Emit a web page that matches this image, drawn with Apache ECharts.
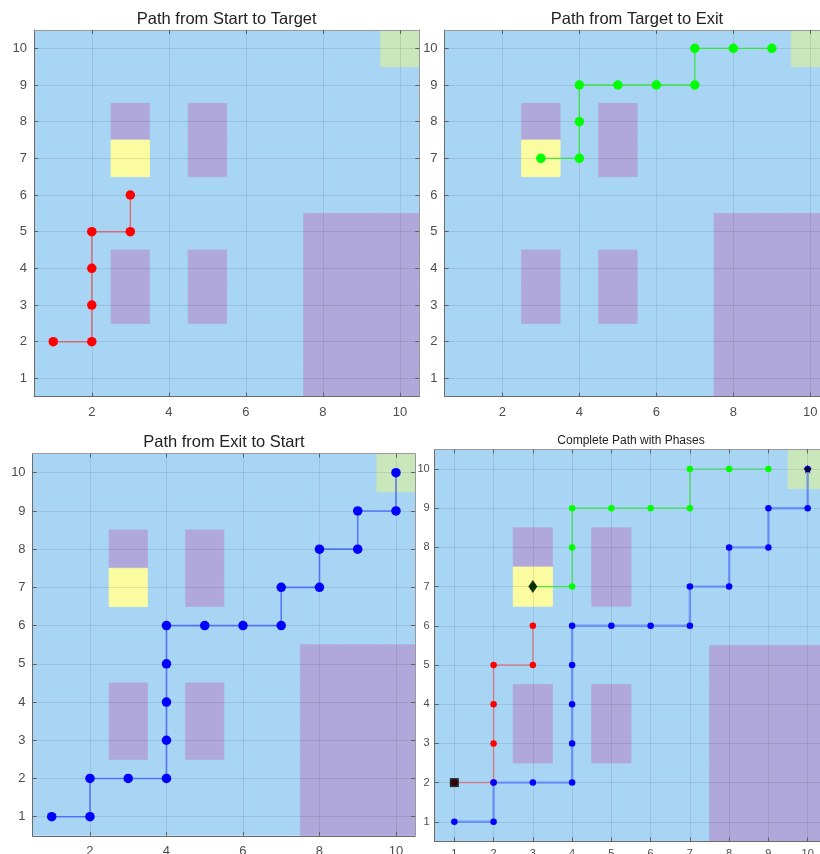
<!DOCTYPE html>
<html>
<head>
<meta charset="utf-8">
<script src="https://cdn.jsdelivr.net/npm/echarts@6/dist/echarts.min.js"></script>
<style>
  html, body { margin: 0; padding: 0; background: #ffffff; }
  #chart { width: 820px; height: 854px; }
</style>
</head>
<body>
<div id="chart"></div>
<script>
// ---- map layout (grid cells, 1..10 on both axes) ----
const obstacleCells = [
  [3, 8], [5, 7], [5, 8],
  [3, 3], [3, 4], [5, 3], [5, 4],
  [8, 1], [9, 1], [10, 1],
  [8, 2], [9, 2], [10, 2],
  [8, 3], [9, 3], [10, 3],
  [8, 4], [9, 4], [10, 4],
  [8, 5], [9, 5], [10, 5]
];
const targetCell = [3, 7];
const exitCell = [10, 10];

// ---- paths ----
const pathStartToTarget = [[1, 2], [2, 2], [2, 3], [2, 4], [2, 5], [3, 5], [3, 6]];
const pathTargetToExit = [[3, 7], [4, 7], [4, 8], [4, 9], [5, 9], [6, 9], [7, 9], [7, 10], [8, 10], [9, 10]];
const pathExitToStart = [
  [10, 10], [10, 9], [9, 9], [9, 8], [8, 8], [8, 7], [7, 7], [7, 6],
  [6, 6], [5, 6], [4, 6], [4, 5], [4, 4], [4, 3], [4, 2], [3, 2],
  [2, 2], [2, 1], [1, 1]
];
const startPoint = [1, 2];
const targetPoint = [3, 7];
const exitPoint = [10, 10];

// ---- labels ----
const panelTitles = [
  'Path from Start to Target',
  'Path from Target to Exit',
  'Path from Exit to Start',
  'Complete Path with Phases'
];
const xTicksCoarse = [2, 4, 6, 8, 10];
const xTicksFine = [1, 2, 3, 4, 5, 6, 7, 8, 9, 10];
const yTicks = [1, 2, 3, 4, 5, 6, 7, 8, 9, 10];

const FONT = '"Liberation Sans", Arial, Helvetica, sans-serif';
const COL_FREE = '#a9d5f5';
const COL_OBST = '#b0a8da';
const COL_TARGET = '#fbfba0';
const COL_EXIT = '#c9e7bb';
const STAR = 'path://M10,0 L12.245,6.91 L19.51,6.91 L13.63,11.18 L15.88,18.09 L10,13.82 L4.12,18.09 L6.37,11.18 L0.49,6.91 L7.755,6.91 Z';

// pixel frames of the four panels
const panels = [
  { left: 34,    top: 30,    width: 385.3, height: 366.7, xt: xTicksCoarse, fs: 13, ym: 7, xm: 9, title: [226.7, 19, 16.5] },
  { left: 444.6, top: 30,    width: 385,   height: 366.7, xt: xTicksCoarse, fs: 13, ym: 7, xm: 9, title: [637, 19, 16.5] },
  { left: 32.6,  top: 453.6, width: 382.5, height: 382.2, xt: xTicksCoarse, fs: 13, ym: 7, xm: 9, title: [223.9, 442, 16.5] },
  { left: 434.7, top: 449.4, width: 392.6, height: 392,   xt: xTicksFine,   fs: 11, ym: 5, xm: 7, title: [631, 440.5, 12] }
];

// map cells: [x, y, kind]  kind 0 obstacle, 1 target, 2 exit
const mapCells = obstacleCells.map(c => [c[0], c[1], 0])
  .concat([[targetCell[0], targetCell[1], 1], [exitCell[0], exitCell[1], 2]]);
const cellColors = [COL_OBST, COL_TARGET, COL_EXIT];

const grids = [], xAxes = [], yAxes = [], series = [], graphics = [];

panels.forEach((p, i) => {
  grids.push({
    left: p.left, top: p.top, width: p.width, height: p.height,
    outerBoundsMode: 'none', containLabel: false,
    show: true, backgroundColor: COL_FREE, borderWidth: 0
  });
  const label = { fontSize: p.fs, color: '#4d4d4d', fontFamily: FONT };
  const tickStyle = { color: '#5f5f5f', width: 1 };
  // primary (bottom / left) axes with labels and grid lines
  xAxes.push({
    gridIndex: i, type: 'value', min: 0.5, max: 10.5, position: 'bottom', z: 3,
    axisLine: { show: true, onZero: false, lineStyle: { color: '#6b6b6b', width: 1 } },
    axisTick: { show: true, inside: true, length: 4, customValues: p.xt, lineStyle: tickStyle },
    axisLabel: Object.assign({ customValues: p.xt, margin: p.xm }, label),
    splitLine: { show: true, lineStyle: { color: 'rgba(38,38,38,0.11)', width: 1 } }
  });
  yAxes.push({
    gridIndex: i, type: 'value', min: 0.5, max: 10.5, position: 'left', z: 3,
    axisLine: { show: true, onZero: false, lineStyle: { color: '#6b6b6b', width: 1 } },
    axisTick: { show: true, inside: true, length: 4, customValues: yTicks, lineStyle: tickStyle },
    axisLabel: Object.assign({ customValues: yTicks, margin: p.ym }, label),
    splitLine: { show: true, lineStyle: { color: 'rgba(38,38,38,0.11)', width: 1 } }
  });
  // mirrored top / right box edges with inward ticks
  xAxes.push({
    gridIndex: i, type: 'value', min: 0.5, max: 10.5, position: 'top', z: 3,
    axisLine: { show: true, onZero: false, lineStyle: { color: '#9a9a9a', width: 1 } },
    axisTick: { show: true, inside: true, length: 4, customValues: p.xt, lineStyle: tickStyle },
    axisLabel: { show: false }, splitLine: { show: false }
  });
  yAxes.push({
    gridIndex: i, type: 'value', min: 0.5, max: 10.5, position: 'right', z: 3,
    axisLine: { show: true, onZero: false, lineStyle: { color: '#9a9a9a', width: 1 } },
    axisTick: { show: true, inside: true, length: 4, customValues: yTicks, lineStyle: tickStyle },
    axisLabel: { show: false }, splitLine: { show: false }
  });

  // map cells (stroked in their own colour so neighbours join without seams)
  series.push({
    type: 'custom', xAxisIndex: 2 * i, yAxisIndex: 2 * i, z: 1, silent: true,
    data: mapCells,
    renderItem: function (params, api) {
      const x = api.value(0), y = api.value(1), k = api.value(2);
      const a = api.coord([x - 0.5, y + 0.5]);
      const b = api.coord([x + 0.5, y - 0.5]);
      return {
        type: 'rect',
        shape: { x: a[0], y: a[1], width: b[0] - a[0], height: b[1] - a[1] },
        style: { fill: cellColors[k], stroke: cellColors[k], lineWidth: 0.8 }
      };
    },
    clip: true
  });

  graphics.push({
    type: 'text', x: p.title[0], y: p.title[1],
    style: {
      text: panelTitles[i], fontSize: p.title[2], fontFamily: FONT,
      fill: '#222222', align: 'center', verticalAlign: 'middle'
    }
  });
});

function pathSeries(gi, data, color, lineColor, lineWidth, size) {
  return {
    type: 'line', xAxisIndex: 2 * gi, yAxisIndex: 2 * gi, z: 5,
    data: data, symbol: 'circle', symbolSize: size, showSymbol: true,
    itemStyle: { color: color },
    lineStyle: { color: lineColor, width: lineWidth },
    silent: true
  };
}

series.push(pathSeries(0, pathStartToTarget, '#ff0000', 'rgba(240,60,60,0.65)', 1.5, 9.5));
series.push(pathSeries(1, pathTargetToExit, '#00ff00', 'rgba(40,230,40,0.85)', 1.3, 9.5));
series.push(pathSeries(2, pathExitToStart, '#0000ff', 'rgba(30,60,255,0.6)', 1.6, 9.5));

series.push(pathSeries(3, pathStartToTarget, '#ff0000', 'rgba(240,80,80,0.6)', 1.5, 6.5));
series.push(pathSeries(3, pathTargetToExit, '#00ff00', 'rgba(40,230,40,0.8)', 1.2, 6.5));
series.push(pathSeries(3, pathExitToStart, '#0000ff', 'rgba(50,90,255,0.5)', 2.4, 6.5));

function markerSeries(point, symbol, size) {
  return {
    type: 'scatter', xAxisIndex: 6, yAxisIndex: 6, z: 6, silent: true,
    data: [point], symbol: symbol, symbolSize: size,
    itemStyle: { color: '#000000' }
  };
}
series.push(markerSeries(startPoint, 'rect', 9));
series.push(markerSeries(targetPoint, 'diamond', [9, 13]));
series.push(markerSeries(exitPoint, STAR, 9));

const chart = echarts.init(document.getElementById('chart'), null, { renderer: 'canvas' });
chart.setOption({
  animation: false,
  backgroundColor: '#ffffff',
  textStyle: { fontFamily: FONT },
  grid: grids,
  xAxis: xAxes,
  yAxis: yAxes,
  series: series,
  graphic: graphics
});
</script>
</body>
</html>
